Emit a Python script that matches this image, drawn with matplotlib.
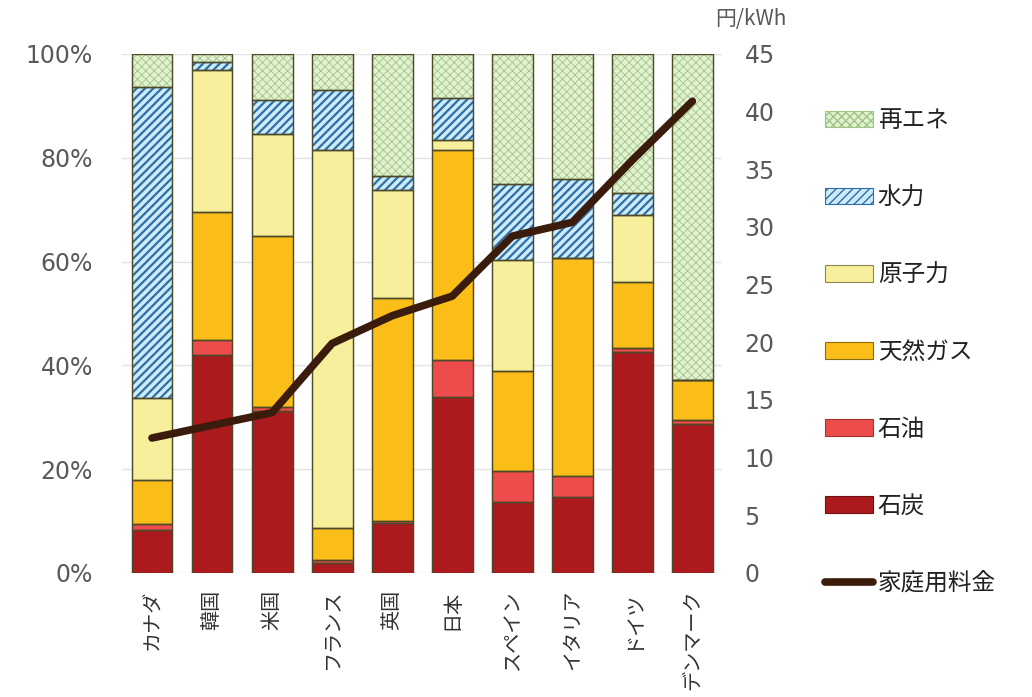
import matplotlib
matplotlib.use("Agg")
import matplotlib.pyplot as plt
import numpy as np

plt.rcParams['font.family'] = ['DejaVu Sans', 'Noto Sans CJK JP']
JP = ['Noto Sans CJK JP', 'DejaVu Sans']

countries = ['カナダ', '韓国', '米国', 'フランス', '英国', '日本', 'スペイン', 'イタリア', 'ドイツ', 'デンマーク']
coal    = [8.3, 42.0, 31.2, 2.0, 9.6, 33.9, 13.7, 14.6, 42.5, 28.7]
oil     = [1.1, 2.8, 0.8, 0.4, 0.5, 7.1, 6.0, 4.0, 0.8, 0.8]
gas     = [8.5, 24.8, 32.9, 6.2, 42.9, 40.5, 19.3, 42.0, 12.8, 7.7]
nuclear = [15.8, 27.4, 19.6, 72.9, 20.8, 1.9, 21.3, 0.0, 12.9, 0.0]
hydro   = [60.0, 1.5, 6.6, 11.6, 2.7, 8.1, 14.7, 15.3, 4.2, 0.0]
renew   = [6.3, 1.5, 8.9, 6.9, 23.5, 8.5, 25.0, 24.1, 26.8, 62.8]
price   = [11.7, 12.8, 13.9, 19.9, 22.3, 24.0, 29.2, 30.4, 35.8, 40.9]

layers = [
    ('石炭', coal, '#ad1a1e', '#6e1012', None),
    ('石油', oil, '#ee4c4c', '#a33333', None),
    ('天然ガス', gas, '#fbbd18', '#8a6a10', None),
    ('原子力', nuclear, '#f8ef9c', '#8c8650', None),
    ('水力', hydro, '#cdebfa', '#2f6fa8', '////'),
    ('再エネ', renew, '#e3f1d3', '#9fc584', 'xxxx'),
]

fig = plt.figure(figsize=(10.32, 6.97), dpi=100)
ax = fig.add_axes([0.1182, 0.178, 0.5818, 0.7446])
x = np.arange(len(countries))
w = 0.68
bottom = np.zeros(len(countries))
handles = {}
for name, vals, face, hcol, hatch in layers:
    vals = np.array(vals)
    if hatch:
        with plt.rc_context({'hatch.linewidth': 1.6 if hatch == '////' else 0.6}):
            b = ax.bar(x, vals, w, bottom=bottom, color=face, edgecolor=hcol,
                       hatch=hatch, linewidth=0.8, zorder=2)
    else:
        b = ax.bar(x, vals, w, bottom=bottom, color=face, edgecolor=hcol,
                   linewidth=0.8, zorder=2)
    ax.bar(x, vals, w, bottom=bottom, fill=False, edgecolor='#4d4a2a',
           linewidth=1.0, zorder=3)
    handles[name] = b
    bottom += vals

ax.set_xlim(-0.5, len(countries) - 0.5)
ax.set_ylim(0, 100)
ax.set_yticks(np.arange(0, 101, 20))
ax.set_yticklabels([f'{v}%' for v in range(0, 101, 20)])
ax.grid(axis='y', color='#e3e3e3', linewidth=1.0, zorder=0)
ax.set_axisbelow(True)
for s in ax.spines.values():
    s.set_visible(False)
ax.tick_params(axis='y', length=0, pad=21, labelsize=17, labelcolor='#595959')
ax.set_xticks(x)
ax.set_xticklabels(countries, rotation=90, family=JP, fontsize=14.5, color='#333333',
                   va='top')
ax.tick_params(axis='x', length=0, pad=12)

ax2 = ax.twinx()
ax2.set_ylim(0, 45)
ax2.set_yticks(np.arange(0, 46, 5))
for s in ax2.spines.values():
    s.set_visible(False)
ax2.tick_params(axis='y', length=0, pad=16, labelsize=17, labelcolor='#595959')
ln, = ax2.plot(x, price, color='#3b1c0c', linewidth=5.5, solid_capstyle='round',
               solid_joinstyle='round', zorder=5)

fig.text(0.693, 0.988, '円/kWh', family=JP, fontsize=15, color='#595959',
         ha='left', va='top')

order = ['再エネ', '水力', '原子力', '天然ガス', '石油', '石炭']
hl = [handles[n] for n in order] + [ln]
labels = order + ['家庭用料金']
leg = fig.legend(hl, labels, loc='upper left', bbox_to_anchor=(0.799, 0.843),
                 frameon=False, prop={'family': JP, 'size': 17},
                 handlelength=2.05, handleheight=0.7, handletextpad=0.2,
                 labelspacing=2.29, borderaxespad=0, borderpad=0)
for t in leg.get_texts():
    t.set_color('#222222')

fig.savefig('out.png', dpi=100)
